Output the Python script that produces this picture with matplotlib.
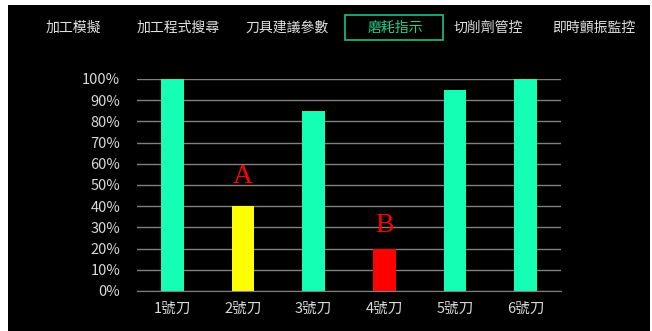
import matplotlib

matplotlib.use("Agg")
import matplotlib.pyplot as plt
from matplotlib.patches import Rectangle
from matplotlib.ticker import PercentFormatter

plt.rcParams["font.family"] = ["Noto Sans CJK TC", "DejaVu Sans"]

tools = ["1號刀", "2號刀", "3號刀", "4號刀", "5號刀", "6號刀"]
wear = [100, 40, 85, 20, 95, 100]
bar_colors = ["#14FFB4", "#FFFF00", "#14FFB4", "#FF0000", "#14FFB4", "#14FFB4"]
marks = {1: ("A", 54), 3: ("B", 31)}
tabs = ["加工模擬", "加工程式搜尋", "刀具建議參數", "磨耗指示", "切削劑管控", "即時顫振監控"]
tab_x = [73, 178, 287, 395, 488, 594]
active_tab = "磨耗指示"

W, H = 652, 331
fig = plt.figure(figsize=(W / 100, H / 100), dpi=100)
fig.patch.set_facecolor("white")
bg = Rectangle((8 / W, 0), (650 - 8) / W, (H - 5) / H, transform=fig.transFigure,
               facecolor="black", edgecolor="none", zorder=-5)
fig.patches.append(bg)

# tab bar
for name, x in zip(tabs, tab_x):
    color = "#1FD08F" if name == active_tab else "#E0E0E0"
    fig.text(x / W, 1 - 28 / H, name, color=color, fontsize=10, ha="center", va="center")
box = Rectangle((345 / W, 1 - 40 / H), 98 / W, 25 / H, transform=fig.transFigure,
                facecolor="none", edgecolor="#1FBF88", linewidth=1.2)
fig.patches.append(box)

ax = fig.add_axes([137 / W, 1 - 291 / H, (561 - 137) / W, (291 - 79) / H])
ax.set_zorder(2)
ax.set_facecolor("black")
x = range(len(tools))
ax.bar(x, wear, width=0.32, color=bar_colors, zorder=3)
for i, (label, y) in marks.items():
    ax.text(i, y, label, color="red", fontsize=20, family="Liberation Serif",
            ha="center", va="center", zorder=4)

ax.set_xlim(-0.5, len(tools) - 0.5)
ax.set_ylim(0, 100)
ax.set_yticks(range(0, 101, 10))
ax.yaxis.set_major_formatter(PercentFormatter(decimals=0))
ax.set_xticks(list(x))
ax.set_xticklabels(tools)
ax.tick_params(colors="#D9D9D9", labelsize=10.5, length=0)
ax.tick_params(axis="y", pad=12)
ax.tick_params(axis="x", pad=8)
ax.grid(True, axis="y", color="#808080", linewidth=1, zorder=0)
for side in ["top", "right", "left"]:
    ax.spines[side].set_visible(False)
ax.spines["bottom"].set_color("#808080")
ax.spines["bottom"].set_zorder(5)

fig.savefig("out.png", dpi=100, facecolor=fig.get_facecolor())
